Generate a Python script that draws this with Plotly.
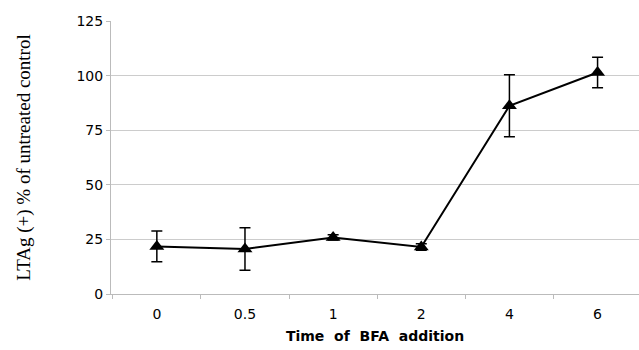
import plotly.graph_objects as go

times = ["0", "0.5", "1", "2", "4", "6"]
values = [21.8, 20.6, 25.9, 21.5, 86.2, 101.4]
errors = [7.0, 9.7, 1.2, 1.5, 14.2, 7.0]
y_ticks = [0, 25, 50, 75, 100, 125]

fig = go.Figure()
fig.add_trace(go.Scatter(
    x=times, y=values,
    mode="lines+markers",
    line=dict(color="black", width=2),
    marker=dict(symbol="triangle-up", size=13, color="black"),
    error_y=dict(type="data", array=errors, visible=True, color="black", thickness=1.5, width=5.5),
    showlegend=False,
))

fig.update_layout(
    width=639, height=350,
    margin=dict(l=111, r=0, t=21, b=56),
    paper_bgcolor="white", plot_bgcolor="white",
    font=dict(family="DejaVu Sans", size=14, color="black"),
    xaxis=dict(
        type="category",
        range=[-0.52, 5.47],
        tickson="boundaries", ticks="outside", ticklen=4, tickcolor="#bbbbbb",
        showline=True, linecolor="#bbbbbb", linewidth=1,
        showgrid=False,
        ticklabelstandoff=7,
        tickfont=dict(family="DejaVu Sans", size=14),
        title=dict(text="<b>Time  of  BFA  addition</b>", font=dict(family="DejaVu Sans", size=14), standoff=10),
    ),
    yaxis=dict(
        range=[0, 125], tickvals=y_ticks,
        ticks="outside", ticklen=4, tickcolor="#bbbbbb",
        showline=True, linecolor="#bbbbbb", linewidth=1,
        showgrid=True, gridcolor="#cccccc", gridwidth=1,
        zeroline=False,
        tickfont=dict(family="DejaVu Sans", size=14),
        title=dict(text="LTAg (+) % of untreated control", font=dict(family="Liberation Serif", size=19), standoff=40),
    ),
)

fig.write_html("out.html", config={"displayModeBar": False},
               post_script="document.body.style.margin='0';")
